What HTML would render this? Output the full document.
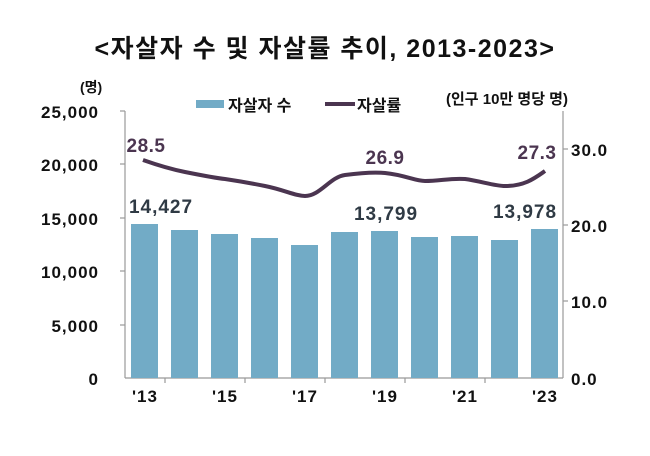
<!DOCTYPE html>
<html><head><meta charset="utf-8"><style>
body{margin:0;background:#fff;}
svg text{font-family:"Liberation Sans","Noto Sans CJK KR",sans-serif;font-weight:bold;}
</style></head><body>
<svg width="650" height="451" viewBox="0 0 650 451" xmlns="http://www.w3.org/2000/svg">
<text x="325" y="57" font-size="25" letter-spacing="1.5" text-anchor="middle" fill="#111">&lt;자살자 수 및 자살률 추이, 2013-2023&gt;</text>
<text x="80" y="92" font-size="14" fill="#111">(명)</text>
<text x="446" y="104" font-size="15" fill="#111">(인구 10만 명당 명)</text>
<rect x="196" y="100" width="28" height="8" fill="#72abc6"/>
<text x="228" y="111" font-size="16" fill="#111">자살자 수</text>
<line x1="325" y1="104" x2="355" y2="104" stroke="#4b3550" stroke-width="4"/>
<text x="357" y="111" font-size="16" fill="#111">자살률</text>
<g stroke="#999" stroke-width="1.2" fill="none">
<line x1="125" y1="111" x2="125" y2="378"/>
<line x1="563" y1="111" x2="563" y2="378"/>
<line x1="125" y1="378" x2="563" y2="378"/>
<line x1="120" y1="111" x2="125" y2="111"/><line x1="120" y1="164" x2="125" y2="164"/><line x1="120" y1="218" x2="125" y2="218"/><line x1="120" y1="271" x2="125" y2="271"/><line x1="120" y1="325" x2="125" y2="325"/>
<line x1="563" y1="149" x2="568" y2="149"/><line x1="563" y1="225" x2="568" y2="225"/><line x1="563" y1="301" x2="568" y2="301"/>
<line x1="165" y1="378" x2="165" y2="383"/><line x1="245" y1="378" x2="245" y2="383"/><line x1="325" y1="378" x2="325" y2="383"/><line x1="405" y1="378" x2="405" y2="383"/><line x1="485" y1="378" x2="485" y2="383"/>
</g>
<g font-size="17" letter-spacing="1" fill="#111" text-anchor="end">
<text x="99" y="118">25,000</text><text x="99" y="171">20,000</text><text x="99" y="225">15,000</text><text x="99" y="278">10,000</text><text x="99" y="332">5,000</text><text x="99" y="385">0</text>
</g>
<g font-size="17" letter-spacing="1" fill="#111">
<text x="571" y="156">30.0</text><text x="571" y="232">20.0</text><text x="571" y="308">10.0</text><text x="571" y="385">0.0</text>
</g>
<g fill="#72abc6">
<rect x="131" y="224" width="27" height="154"/>
<rect x="171" y="230" width="27" height="148"/>
<rect x="211" y="234" width="27" height="144"/>
<rect x="251" y="238" width="27" height="140"/>
<rect x="291" y="245" width="27" height="133"/>
<rect x="331" y="232" width="27" height="146"/>
<rect x="371" y="231" width="27" height="147"/>
<rect x="411" y="237" width="27" height="141"/>
<rect x="451" y="236" width="27" height="142"/>
<rect x="491" y="240" width="27" height="138"/>
<rect x="531" y="229" width="27" height="149"/>
</g>
<path d="M143,160 C160,166 175,170 185,172 C205,176 215,178 225,179 C245,182 255,184 265,186 C285,190 295,196 305,196 C320,196 330,177 345,175 C360,173 375,172 385,173 C405,175 415,181 425,181 C440,181 450,178 465,179 C480,181 495,186 505,186 C525,186 535,178 545,171" stroke="#4b3550" stroke-width="4" fill="none"/>
<g font-size="19" letter-spacing="0.5" fill="#4b3550" text-anchor="middle">
<text x="146" y="152">28.5</text><text x="385" y="164">26.9</text><text x="537" y="159">27.3</text>
</g>
<g font-size="19" letter-spacing="1" fill="#2f3a44" text-anchor="middle">
<text x="161" y="213">14,427</text><text x="386" y="220">13,799</text><text x="525" y="218">13,978</text>
</g>
<g font-size="17" letter-spacing="1" fill="#111" text-anchor="middle">
<text x="145" y="402">'13</text><text x="225" y="402">'15</text><text x="305" y="402">'17</text><text x="385" y="402">'19</text><text x="465" y="402">'21</text><text x="545" y="402">'23</text>
</g>
</svg>
</body></html>
